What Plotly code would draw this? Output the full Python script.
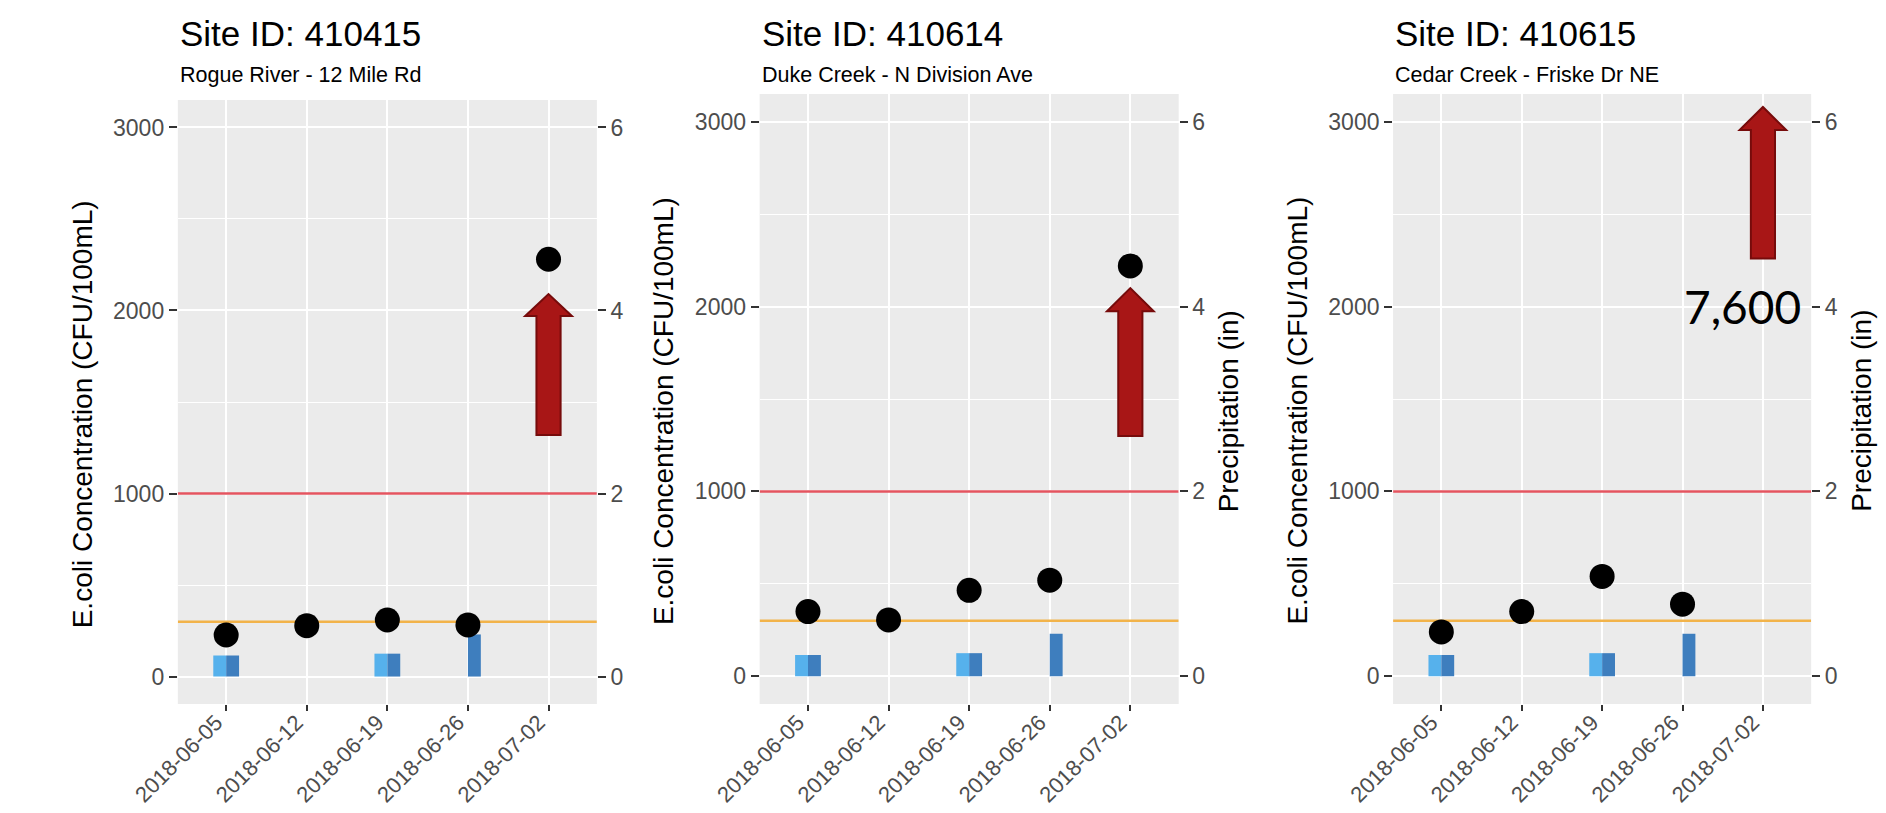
import plotly.graph_objects as go

W, H = 1886, 813

# ---------------- data ----------------
dates = ["2018-06-05", "2018-06-12", "2018-06-19", "2018-06-26", "2018-07-02"]
site_ids = ["410415", "410614", "410615"]
site_names = ["Rogue River - 12 Mile Rd", "Duke Creek - N Division Ave", "Cedar Creek - Friske Dr NE"]

ecoli_410415 = [227, 278, 309, 282, 2280]
ecoli_410614 = [350, 305, 465, 520, 2220]
ecoli_410615 = [240, 350, 540, 390, 7600]

precip_light = [0.23, 0, 0.25, 0, 0]
precip_dark = [0.23, 0, 0.25, 0.46, 0]

conc_ticks = [0, 1000, 2000, 3000]
precip_ticks = [0, 2, 4, 6]
precip_minor = [1, 3, 5]
conc_limits = [0, 3000]
sec_factor = 500  # CFU/100mL per inch of precipitation

thresholds = [1000, 300]
threshold_colors = ["#E4545F", "#F2B34A"]

arrow_tip = [2090, 2100, 3080]
arrow_shoulder = [1970, 1975, 2955]
arrow_base = [1320, 1300, 2260]
offscale_label_site = 2

series = [ecoli_410415, ecoli_410614, ecoli_410615]

# ---------------- layout geometry (pixels) ----------------
boxes = [(125, 555, 92, 696), (722, 1152, 86, 696), (1372, 1801, 86, 696)]
show_right_title = [False, True, True]

FONT = "Liberation Sans, Arial, sans-serif"
TICK_GREY = "#4D4D4D"
pad = 0.05 * (conc_limits[1] - conc_limits[0])
conc_range = [conc_limits[0] - pad, conc_limits[1] + pad]
precip_range = [v / sec_factor for v in conc_range]
xpos = list(range(len(dates)))
x_range = [-0.6, len(dates) - 1 + 0.6]

fig = go.Figure()
layout = dict(
    width=W, height=H, margin=dict(l=0, r=0, t=0, b=0),
    paper_bgcolor="white", plot_bgcolor="#EBEBEB",
    showlegend=False, barmode="overlay",
    font=dict(family=FONT, color="black"),
)
annotations = []
shapes = []

for k, (l, r, t, b) in enumerate(boxes):
    xid = "x" if k == 0 else f"x{k+1}"
    base_n = 2 * k + 1
    over_n = 2 * k + 2
    yb = "y" if base_n == 1 else f"y{base_n}"
    yo = f"y{over_n}"
    xdom = [l / W, r / W]
    ydom = [1 - b / H, 1 - t / H]

    layout["xaxis" if k == 0 else f"xaxis{k+1}"] = dict(
        domain=xdom, range=x_range, tickvals=xpos, ticktext=dates,
        tickangle=-45, showgrid=True, gridcolor="white", gridwidth=2,
        zeroline=False, ticks="outside", ticklen=6, tickwidth=1.5,
        tickcolor="#333333", tickfont=dict(size=22, color=TICK_GREY),
        ticklabelstandoff=-10, ticklabelshift=-10,
        anchor=yb, showline=False, fixedrange=True,
    )
    layout["yaxis" if base_n == 1 else f"yaxis{base_n}"] = dict(
        domain=ydom, range=precip_range, tickvals=precip_ticks, side="right",
        showgrid=True, gridcolor="white", gridwidth=2, zeroline=False,
        minor=dict(tickvals=precip_minor, showgrid=True, gridcolor="white", gridwidth=1),
        ticks="outside", ticklen=8, tickwidth=1.5, tickcolor="#333333",
        tickfont=dict(size=23, color=TICK_GREY), anchor=xid, showline=False,
    )
    layout[f"yaxis{over_n}"] = dict(
        range=conc_range, tickvals=conc_ticks, side="left",
        overlaying=yb, anchor=xid, showgrid=False, zeroline=False,
        ticks="outside", ticklen=8, tickwidth=1.5, tickcolor="#333333",
        tickfont=dict(size=23, color=TICK_GREY), showline=False,
    )

    # precipitation bars (dodged)
    fig.add_trace(go.Bar(x=xpos, y=precip_light, width=0.16, offset=-0.16,
                         marker=dict(color="#56B1EC", line=dict(width=0)),
                         xaxis=xid, yaxis=yb))
    fig.add_trace(go.Bar(x=xpos, y=precip_dark, width=0.16, offset=0.0,
                         marker=dict(color="#3E7EBE", line=dict(width=0)),
                         xaxis=xid, yaxis=yb))

    # threshold lines across the panel
    for th, col in zip(thresholds, threshold_colors):
        fig.add_trace(go.Scatter(x=x_range, y=[th, th], mode="lines",
                                 line=dict(color=col, width=2.5),
                                 xaxis=xid, yaxis=yo, hoverinfo="skip"))

    # E. coli points
    fig.add_trace(go.Scatter(x=xpos, y=series[k], mode="markers",
                             marker=dict(size=25, color="black"),
                             xaxis=xid, yaxis=yo, cliponaxis=True))

    # block arrow at last sample
    xi = xpos[-1]
    hw_s, hw_h = 0.15, 0.29
    path = (f"M {xi-hw_s},{arrow_base[k]} L {xi+hw_s},{arrow_base[k]} "
            f"L {xi+hw_s},{arrow_shoulder[k]} L {xi+hw_h},{arrow_shoulder[k]} "
            f"L {xi},{arrow_tip[k]} L {xi-hw_h},{arrow_shoulder[k]} "
            f"L {xi-hw_s},{arrow_shoulder[k]} Z")
    shapes.append(dict(type="path", xref=xid, yref=yo, path=path,
                       fillcolor="#A81616", line=dict(color="#760B0B", width=2),
                       layer="above"))

    # titles
    annotations.append(dict(text=f"Site ID: {site_ids[k]}", xref="paper", yref="paper",
                            x=l / W, y=1 - 25 / H, xanchor="left", yanchor="middle",
                            showarrow=False, font=dict(size=35, color="black")))
    annotations.append(dict(text=site_names[k], xref="paper", yref="paper",
                            x=l / W, y=1 - 67 / H, xanchor="left", yanchor="middle",
                            showarrow=False, font=dict(size=21.5, color="black")))
    ymid = 1 - ((t + b) / 2 + 12) / H
    annotations.append(dict(text="E.coli Concentration (CFU/100mL)", xref="paper", yref="paper",
                            x=(l - 98) / W, y=ymid, xanchor="center", yanchor="middle",
                            textangle=-90, showarrow=False, font=dict(size=28, color="black")))
    if show_right_title[k]:
        annotations.append(dict(text="Precipitation (in)", xref="paper", yref="paper",
                                x=(r + 52) / W, y=ymid, xanchor="center", yanchor="middle",
                                textangle=-90, showarrow=False, font=dict(size=28, color="black")))
    if k == offscale_label_site:
        annotations.append(dict(text=f"{series[k][-1]:,}", xref=xid, yref=yo,
                                x=xi + 0.5, y=2000, xanchor="right", yanchor="middle",
                                showarrow=False, font=dict(family="Lato, sans-serif", size=46, color="black")))

layout["annotations"] = annotations
layout["shapes"] = shapes
fig.update_layout(**layout)
fig.write_html("out.html")
